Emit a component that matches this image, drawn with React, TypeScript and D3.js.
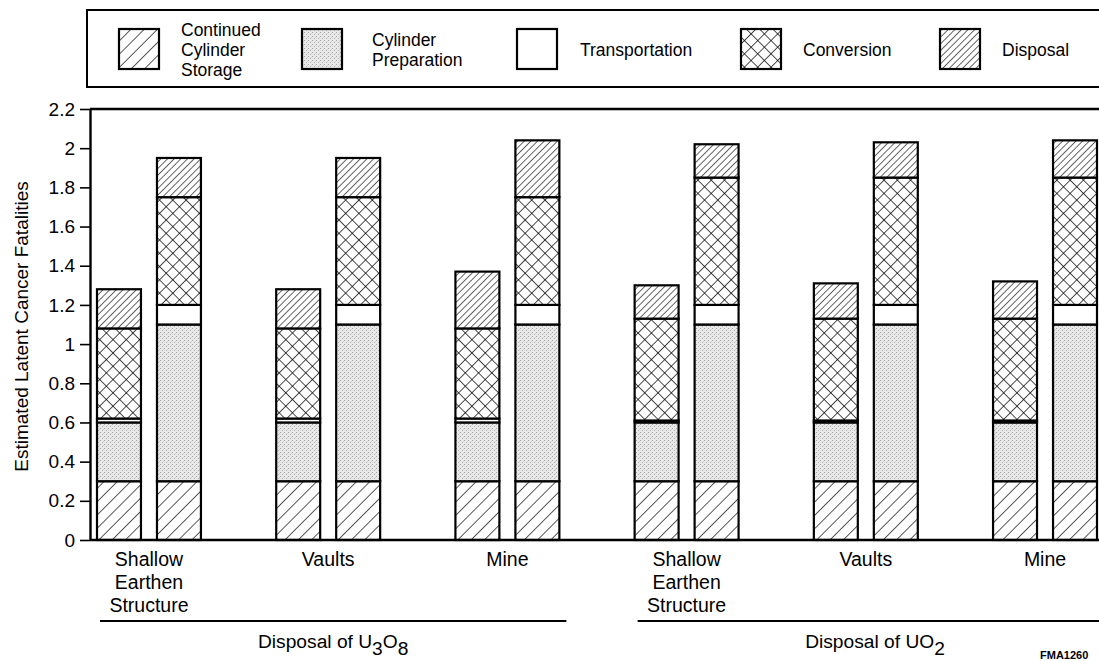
import React, { useEffect, useRef } from "react";
import * as d3 from "d3";

// ---------- data ----------
const groupIds = ["u3o8-shallow", "u3o8-vaults", "u3o8-mine", "uo2-shallow", "uo2-vaults", "uo2-mine"];
const categoryLabels = [
  ["Shallow", "Earthen", "Structure"],
  ["Vaults"],
  ["Mine"],
  ["Shallow", "Earthen", "Structure"],
  ["Vaults"],
  ["Mine"],
];
const barIds = ["a", "b"];

// 12 bars: group0 bar a, group0 bar b, group1 bar a, ...
const storage = [0.3, 0.3, 0.3, 0.3, 0.3, 0.3, 0.3, 0.3, 0.3, 0.3, 0.3, 0.3];
const preparation = [0.3, 0.8, 0.3, 0.8, 0.3, 0.8, 0.3, 0.8, 0.3, 0.8, 0.3, 0.8];
const transportation = [0.02, 0.1, 0.02, 0.1, 0.02, 0.1, 0.01, 0.1, 0.01, 0.1, 0.01, 0.1];
const conversion = [0.46, 0.55, 0.46, 0.55, 0.46, 0.55, 0.52, 0.65, 0.52, 0.65, 0.52, 0.65];
const disposal = [0.2, 0.2, 0.2, 0.2, 0.29, 0.29, 0.17, 0.17, 0.18, 0.18, 0.19, 0.19];

const seriesKeys = ["storage", "preparation", "transportation", "conversion", "disposal"];
const legendLines = [
  ["Continued", "Cylinder", "Storage"],
  ["Cylinder", "Preparation"],
  ["Transportation"],
  ["Conversion"],
  ["Disposal"],
];
const yTicks = [0, 0.2, 0.4, 0.6, 0.8, 1, 1.2, 1.4, 1.6, 1.8, 2, 2.2];
const yTitle = "Estimated Latent Cancer Fatalities";
const groupTitles = [
  { groups: [0, 2], parts: [["Disposal of U", false], ["3", true], ["O", false], ["8", true]] },
  { groups: [3, 5], parts: [["Disposal of UO", false], ["2", true]] },
];
const figureId = "FMA1260";

// ---------- layout ----------
const W = 1099;
const H = 661;
const FONT = "'Liberation Sans', Arial, Helvetica, sans-serif";
const plotLeft = 90;
const plotTop = 109;
const plotBottom = 540;

const fills: Record<string, string> = {
  storage: "url(#pStorage)",
  preparation: "url(#pPrep)",
  transportation: "#ffffff",
  conversion: "url(#pConv)",
  disposal: "url(#pDisp)",
};

const legendSwatchX = [119, 302, 517, 741, 940];
const legendTextX = [181, 372, 580, 803, 1002];

export default function App() {
  const yAxisRef = useRef<SVGGElement>(null);

  const y = d3.scaleLinear().domain([0, 2.2]).range([plotBottom, plotTop]);
  const xGroup = d3
    .scaleBand<string>()
    .domain(groupIds)
    .range([97, 1097])
    .paddingInner(0.42)
    .paddingOuter(0);
  const xBar = d3
    .scaleBand<string>()
    .domain(barIds)
    .range([0, xGroup.bandwidth()])
    .paddingInner(0.267)
    .paddingOuter(0);

  const rows = groupIds.flatMap((g, gi) =>
    barIds.map((b, bi) => {
      const i = gi * 2 + bi;
      return {
        group: g,
        bar: b,
        storage: storage[i],
        preparation: preparation[i],
        transportation: transportation[i],
        conversion: conversion[i],
        disposal: disposal[i],
      };
    })
  );
  const stacked = d3.stack<any>().keys(seriesKeys)(rows);

  useEffect(() => {
    if (!yAxisRef.current) return;
    const g = d3.select(yAxisRef.current);
    g.selectAll("*").remove();
    g.call(
      d3
        .axisLeft(y)
        .tickValues(yTicks)
        .tickSize(10)
        .tickSizeOuter(0)
        .tickPadding(5)
        .tickFormat(d3.format("~g") as any)
    );
    g.select(".domain").attr("stroke", "#000").attr("stroke-width", 2.4);
    g.selectAll(".tick line").attr("stroke", "#000").attr("stroke-width", 1.6);
    g.selectAll(".tick text")
      .attr("font-family", FONT)
      .attr("font-size", 19)
      .attr("fill", "#000");
  }, []);

  return (
    <svg
      width={W}
      height={H}
      viewBox={`0 0 ${W} ${H}`}
      style={{ position: "absolute", left: 0, top: 0, background: "#fff" }}
      fontFamily={FONT}
    >
      <defs>
        <pattern id="pStorage" patternUnits="userSpaceOnUse" width="9.4" height="10" patternTransform="rotate(45)">
          <rect width="9.4" height="10" fill="#fff" />
          <line x1="0" y1="0" x2="0" y2="10" stroke="#000" strokeWidth="1.3" />
        </pattern>
        <pattern id="pDisp" patternUnits="userSpaceOnUse" width="4.7" height="10" patternTransform="rotate(45)">
          <rect width="4.7" height="10" fill="#fff" />
          <line x1="0" y1="0" x2="0" y2="10" stroke="#000" strokeWidth="1.2" />
        </pattern>
        <pattern id="pConv" patternUnits="userSpaceOnUse" width="9.4" height="9.4" patternTransform="rotate(45)">
          <rect width="9.4" height="9.4" fill="#fff" />
          <line x1="0" y1="0" x2="0" y2="9.4" stroke="#000" strokeWidth="1.4" />
          <line x1="0" y1="0" x2="9.4" y2="0" stroke="#000" strokeWidth="1.4" />
        </pattern>
        <pattern id="pPrep" patternUnits="userSpaceOnUse" width="4" height="4">
          <rect width="4" height="4" fill="#e8e8e8" />
          <rect x="0" y="0" width="1" height="1" fill="#a6a6a6" />
          <rect x="2" y="2" width="1" height="1" fill="#b4b4b4" />
          <rect x="3" y="1" width="1" height="1" fill="#cfcfcf" />
        </pattern>
      </defs>

      {/* legend */}
      <rect x={87} y={10} width={1100} height={77} fill="none" stroke="#000" strokeWidth={2} />
      {seriesKeys.map((k, i) => {
        const lines = legendLines[i];
        const lh = 20;
        const firstBaseline = 56 - ((lines.length - 1) * lh) / 2;
        return (
          <g key={k}>
            <rect x={legendSwatchX[i]} y={29} width={40} height={40} fill={fills[k]} stroke="#000" strokeWidth={2.2} />
            <text fontSize={17.5} fill="#000">
              {lines.map((t, j) => (
                <tspan key={j} x={legendTextX[i]} y={firstBaseline + j * lh}>
                  {t}
                </tspan>
              ))}
            </text>
          </g>
        );
      })}

      {/* bars */}
      {stacked.map((series) => (
        <g key={series.key}>
          {series.map((d: any, i: number) => {
            const row = rows[i];
            const x0 = (xGroup(row.group) as number) + (xBar(row.bar) as number);
            return (
              <rect
                key={i}
                x={x0}
                y={y(d[1])}
                width={xBar.bandwidth()}
                height={y(d[0]) - y(d[1])}
                fill={fills[series.key]}
                stroke="#000"
                strokeWidth={2.2}
              />
            );
          })}
        </g>
      ))}

      {/* frame lines */}
      <line x1={plotLeft} x2={W} y1={plotTop} y2={plotTop} stroke="#000" strokeWidth={2.4} />
      <line x1={plotLeft} x2={W} y1={plotBottom} y2={plotBottom} stroke="#000" strokeWidth={2.4} />
      <g ref={yAxisRef} transform={`translate(${plotLeft},0)`} />

      {/* y title */}
      <text
        transform={`translate(28,${(plotTop + plotBottom) / 2 + 2}) rotate(-90)`}
        textAnchor="middle"
        fontSize={19}
        fill="#000"
      >
        {yTitle}
      </text>

      {/* category labels */}
      {groupIds.map((g, gi) => {
        const cx = (xGroup(g) as number) + xGroup.bandwidth() / 2;
        return (
          <text key={g} textAnchor="middle" fontSize={19.5} fill="#000">
            {categoryLabels[gi].map((t, j) => (
              <tspan key={j} x={cx} y={566 + j * 23}>
                {t}
              </tspan>
            ))}
          </text>
        );
      })}

      {/* group titles */}
      {groupTitles.map((gt, i) => {
        const xStart = (xGroup(groupIds[gt.groups[0]]) as number) + 3;
        const xEndRaw = (xGroup(groupIds[gt.groups[1]]) as number) + xGroup.bandwidth() + 7;
        const xEnd = i === groupTitles.length - 1 ? W : xEndRaw;
        const cx = i === groupTitles.length - 1 ? 875 : (xStart + xEnd) / 2;
        return (
          <g key={i}>
            <line x1={xStart} x2={xEnd} y1={621} y2={621} stroke="#000" strokeWidth={2} />
            <text x={cx} y={648} textAnchor="middle" fontSize={19.2} fill="#000">
              {gt.parts.map((p, j) => {
                const isSub = p[1] as boolean;
                const prevSub = j > 0 ? (gt.parts[j - 1][1] as boolean) : false;
                const dy = isSub && !prevSub ? 7 : !isSub && prevSub ? -7 : 0;
                return (
                  <tspan key={j} dy={dy}>
                    {p[0] as string}
                  </tspan>
                );
              })}
            </text>
          </g>
        );
      })}

      <text x={1040} y={659} fontSize={11} fontWeight="bold" fill="#000">
        {figureId}
      </text>
    </svg>
  );
}
